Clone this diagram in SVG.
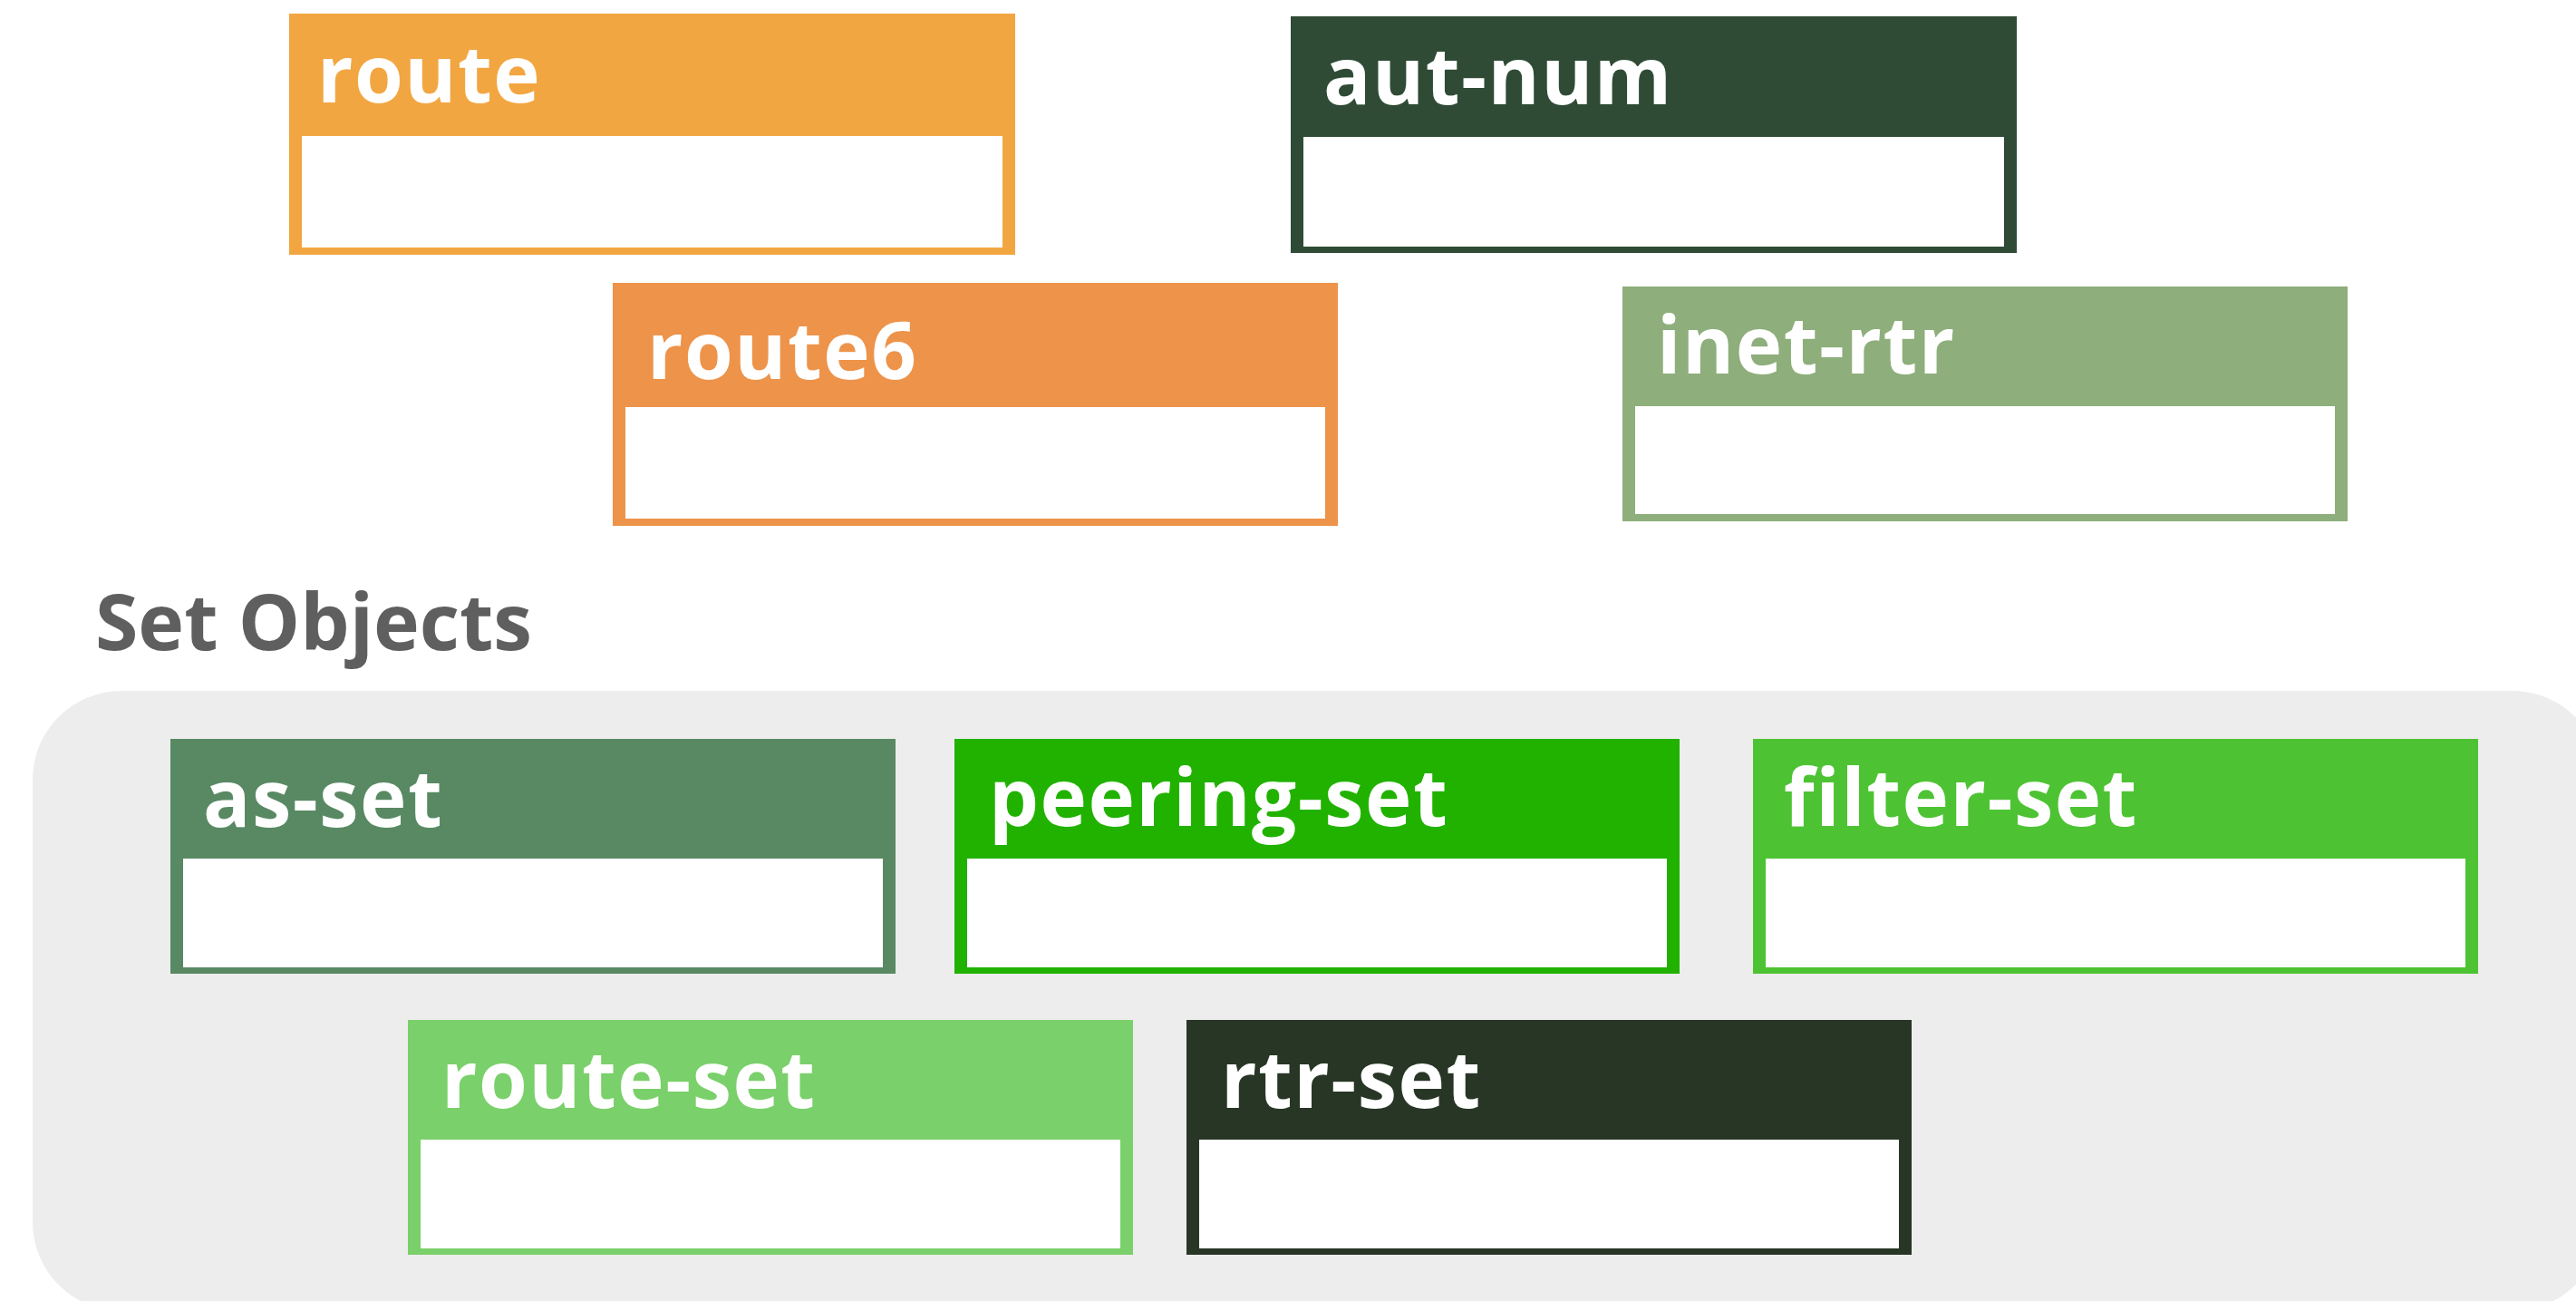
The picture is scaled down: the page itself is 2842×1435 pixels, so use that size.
<svg xmlns="http://www.w3.org/2000/svg" width="2842" height="1435" viewBox="0 0 2842 1435">
<style>
.lbl{font-family:"Open Sans","Noto Sans","DejaVu Sans",sans-serif;font-weight:700;font-size:87px;letter-spacing:1.5px;fill:#ffffff}
.title{font-family:"Open Sans","Noto Sans","DejaVu Sans",sans-serif;font-weight:700;font-size:86px;fill:#5f5f5f}
.body{fill:#ffffff}
</style>
<rect width="2842" height="1435" fill="#ffffff"/>
<g id="group-set-objects">
<rect x="36" y="762" width="2834" height="684" rx="98" ry="98" fill="#ededed"/>
<text class="title" x="105" y="717">Set Objects</text>
</g>
<g id="node-route">
<rect x="319" y="15" width="801" height="266" fill="#f2a641"/>
<rect class="body" x="333" y="150" width="773" height="123"/>
<text class="lbl" x="350" y="113">route</text>
</g>
<g id="node-aut-num">
<rect x="1424" y="18" width="801" height="261" fill="#2f4b35"/>
<rect class="body" x="1438" y="151" width="773" height="121"/>
<text class="lbl" x="1460" y="115">aut-num</text>
</g>
<g id="node-route6">
<rect x="676" y="312" width="800" height="268" fill="#ed934a"/>
<rect class="body" x="690" y="449" width="772" height="123"/>
<text class="lbl" x="714" y="418">route6</text>
</g>
<g id="node-inet-rtr">
<rect x="1790" y="316" width="800" height="259" fill="#8eae7c"/>
<rect class="body" x="1804" y="448" width="772" height="119"/>
<text class="lbl" x="1828" y="412">inet-rtr</text>
</g>
<g id="node-as-set">
<rect x="188" y="815" width="800" height="259" fill="#588963"/>
<rect class="body" x="202" y="947" width="772" height="120"/>
<text class="lbl" x="224" y="912">as-set</text>
</g>
<g id="node-peering-set">
<rect x="1053" y="815" width="800" height="259" fill="#21b200"/>
<rect class="body" x="1067" y="947" width="772" height="120"/>
<text class="lbl" x="1091" y="911">peering-set</text>
</g>
<g id="node-filter-set">
<rect x="1934" y="815" width="800" height="259" fill="#4dc333"/>
<rect class="body" x="1948" y="947" width="772" height="120"/>
<text class="lbl" x="1968" y="911">filter-set</text>
</g>
<g id="node-route-set">
<rect x="450" y="1125" width="800" height="259" fill="#7ad06a"/>
<rect class="body" x="464" y="1257" width="772" height="120"/>
<text class="lbl" x="487" y="1222">route-set</text>
</g>
<g id="node-rtr-set">
<rect x="1309" y="1125" width="800" height="259" fill="#283626"/>
<rect class="body" x="1323" y="1257" width="772" height="120"/>
<text class="lbl" x="1347" y="1222">rtr-set</text>
</g>
<g id="connectors"></g>
</svg>
